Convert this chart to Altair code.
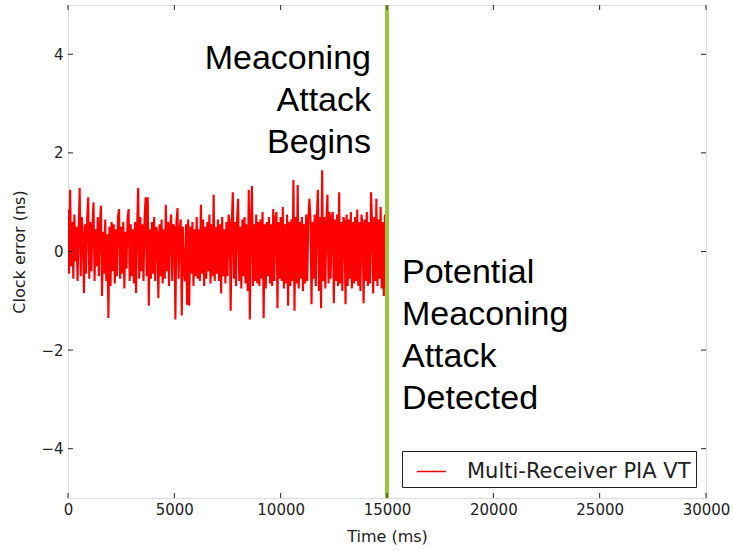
import altair as alt
import pandas as pd

# ---------------- data ----------------
series_name = "Multi-Receiver PIA VT"
sample_step_ms = 50
clock_error_ns = [
    0.85, -0.45, 1.25, -0.3, 0.6, -0.55, 0.75, -0.2, 0.5, -0.6,
    0.4, 1.29, -0.5, 0.7, 0.35, -0.84, 0.55, -0.45, 0.65, 1.1,
    -0.55, 0.6, -0.4, 0.5, 1.0, -0.6, 0.45, -0.3, 0.7, -0.5,
    0.55, 0.93, -0.9, 0.4, -0.45, 0.65, -0.6, 0.35, -1.35, 0.5,
    -0.7, 0.6, -0.4, 0.55, -0.65, 0.45, -0.5, 0.7, 0.86, -0.55,
    0.5, -0.45, 0.6, -0.75, 0.4, -0.35, 0.65, 0.86, -0.6, 0.55,
    -0.5, 0.45, -0.65, 0.6, -0.84, 0.5, 1.29, -0.55, 0.7, -0.4,
    0.55, -0.6, 0.65, 1.1, -0.5, 1.1, -1.1, 0.45, -0.55, 0.6,
    -0.45, 0.7, -0.6, 0.5, 0.35, -0.95, 0.55, -0.5, 0.65, -0.65,
    0.45, -0.55, 0.95, -0.4, 0.6, -0.7, 0.5, 0.75, -0.6, 0.55,
    0.5, -1.38, 0.6, 0.88, -0.55, 0.45, 0.65, -1.3, 0.5, -0.4,
    -0.6, 0.55, -1.08, 0.65, -1.1, 0.5, -0.45, 0.6, -0.7, 0.45,
    -0.5, 0.7, -0.55, 0.45, -0.6, 0.95, -0.45, 0.65, -0.7, 0.5,
    -0.55, 0.6, -0.4, 0.75, -0.65, 0.55, -0.5, 1.15, -0.6, 0.5,
    -0.45, 0.65, -0.6, 0.55, -0.85, 0.7, -0.5, 0.45, -0.65, 0.6,
    -0.5, 0.75, 0.6, -1.2, 0.55, 1.2, -0.55, 0.6, -0.7, 0.65,
    1.07, -0.6, 0.5, -0.75, 0.65, -0.5, 0.7, -0.65, 0.55, -0.8,
    1.25, -1.38, 0.6, 1.33, -0.7, 0.55, -0.6, 0.75, -0.65, 0.6,
    -0.7, 0.65, -0.55, 0.8, -1.35, 0.55, -0.75, 0.6, -0.5, 0.7,
    -0.65, 0.55, -0.7, 0.86, -0.6, 0.65, 0.8, -1.15, 0.6, -0.55,
    0.7, -0.6, 0.9, -0.75, 0.55, -0.65, 0.75, -1.1, 0.6, -0.7,
    0.65, -0.6, 1.45, -1.2, 0.7, -0.65, 1.35, -0.75, 0.6, -0.55,
    0.7, -0.8, 0.55, -0.65, 0.75, -0.6, 0.65, 1.07, 0.7, -1.07,
    0.6, -0.55, 0.75, -0.7, 0.65, 1.25, -0.8, 0.7, -1.15, 1.65,
    -0.6, 0.7, -0.75, 0.6, 1.15, -0.65, 0.8, -0.55, 0.7, 0.8,
    -1.05, 0.65, -0.6, 0.75, -0.7, 1.2, -0.65, 0.6, -0.8, 0.7,
    0.6, -1.07, 0.75, -0.7, 0.65, -0.55, 0.8, -0.75, 0.6, -0.65,
    0.7, -0.6, 0.85, -0.7, 0.6, -0.8, 0.75, 0.55, -1.05, 0.65,
    -0.6, 0.8, -0.7, 0.6, -0.65, 1.2, 0.55, -0.85, 0.7, -0.6,
    1.07, -0.7, 0.65, -0.55, 0.9, -0.75, 0.6, -0.9, 0.75, -0.6,
]
attack_time_ms = [15000]
x_ticks = [0, 5000, 10000, 15000, 20000, 25000, 30000]
y_ticks = [-4, -2, 0, 2, 4]
x_domain = [0, 30000]
y_domain = [-5, 5]
ann_top_text = ["Meaconing\nAttack\nBegins"]
ann_top_y = [3.70]
ann_bottom_text = ["Potential\nMeaconing\nAttack\nDetected"]
ann_bottom_y = [-0.64]

W, H = 638, 493
AX_FONT = "DejaVu Sans"
TXT = "#222222"

line_df = pd.DataFrame({
    "time": [i * sample_step_ms for i in range(len(clock_error_ns))],
    "err": clock_error_ns,
    "series": [series_name] * len(clock_error_ns),
})
attack_df = pd.DataFrame({"time": attack_time_ms})
xt_df = pd.DataFrame({"t": x_ticks})
yt_df = pd.DataFrame({"v": y_ticks})
top_df = pd.DataFrame({"time": attack_time_ms, "y": ann_top_y, "label": ann_top_text})
bot_df = pd.DataFrame({"time": attack_time_ms, "y": ann_bottom_y, "label": ann_bottom_text})

xscale = alt.Scale(domain=x_domain, nice=False, zero=False)
yscale = alt.Scale(domain=y_domain, nice=False, zero=False)

x_axis = alt.Axis(values=x_ticks, format="d", ticks=False, domain=False, grid=False,
                  labelFont=AX_FONT, labelFontSize=15, labelColor=TXT, labelPadding=4,
                  labelFlush=False,
                  title="Time (ms)", titleFont=AX_FONT, titleFontSize=16, titleFontWeight="normal",
                  titleColor=TXT, titlePadding=11)
y_axis = alt.Axis(values=y_ticks, format="d", ticks=False, domain=False, grid=False,
                  labelFont=AX_FONT, labelFontSize=15, labelColor=TXT, labelPadding=5,
                  labelFlush=False,
                  title="Clock error (ns)", titleFont=AX_FONT, titleFontSize=16, titleFontWeight="normal",
                  titleColor=TXT, titlePadding=13)

line = alt.Chart(line_df).mark_line(strokeWidth=2.1, clip=True, strokeJoin="miter").encode(
    x=alt.X("time:Q", scale=xscale, axis=x_axis),
    y=alt.Y("err:Q", scale=yscale, axis=y_axis),
    color=alt.Color("series:N",
                    scale=alt.Scale(domain=[series_name], range=["#ff0000"]),
                    legend=alt.Legend(orient="none", legendX=334, legendY=446, title=None,
                                      symbolType="stroke", symbolSize=841, symbolStrokeWidth=1.5,
                                      symbolOffset=9,
                                      labelFont=AX_FONT, labelFontSize=21, labelColor=TXT,
                                      labelOffset=20, labelLimit=400,
                                      strokeColor="#222222", fillColor="white", padding=5,
                                      cornerRadius=0)),
)

attack = alt.Chart(attack_df).mark_rule(color="#9bc53d", strokeWidth=4).encode(
    x=alt.X("time:Q", scale=xscale),
)

tick_style = dict(color="#222222", strokeWidth=1)
xt_bottom = alt.Chart(xt_df).mark_rule(**tick_style).encode(
    x=alt.X("t:Q", scale=xscale), y=alt.value(H), y2=alt.value(H - 5))
xt_top = alt.Chart(xt_df).mark_rule(**tick_style).encode(
    x=alt.X("t:Q", scale=xscale), y=alt.value(0), y2=alt.value(5))
yt_left = alt.Chart(yt_df).mark_rule(**tick_style).encode(
    y=alt.Y("v:Q", scale=yscale), x=alt.value(0), x2=alt.value(5))
yt_right = alt.Chart(yt_df).mark_rule(**tick_style).encode(
    y=alt.Y("v:Q", scale=yscale), x=alt.value(W), x2=alt.value(W - 5))

top_txt = alt.Chart(top_df).mark_text(
    align="right", baseline="alphabetic", dx=-16, font="Liberation Sans", fontSize=34,
    lineBreak="\n", lineHeight=42, color="black").encode(
    x=alt.X("time:Q", scale=xscale), y=alt.Y("y:Q", scale=yscale), text="label:N")
bot_txt = alt.Chart(bot_df).mark_text(
    align="left", baseline="alphabetic", dx=15, font="Liberation Sans", fontSize=34,
    lineBreak="\n", lineHeight=42, color="black").encode(
    x=alt.X("time:Q", scale=xscale), y=alt.Y("y:Q", scale=yscale), text="label:N")

chart = alt.layer(line, attack, xt_bottom, xt_top, yt_left, yt_right, top_txt, bot_txt).properties(
    width=W, height=H,
    autosize=alt.AutoSizeParams(type="none"),
    padding={"left": 68, "top": 5, "right": 27, "bottom": 52},
).configure_view(stroke="#111111", strokeWidth=1).configure(background="white")

chart.save("out.html", embed_options={"renderer": "svg", "actions": False})
